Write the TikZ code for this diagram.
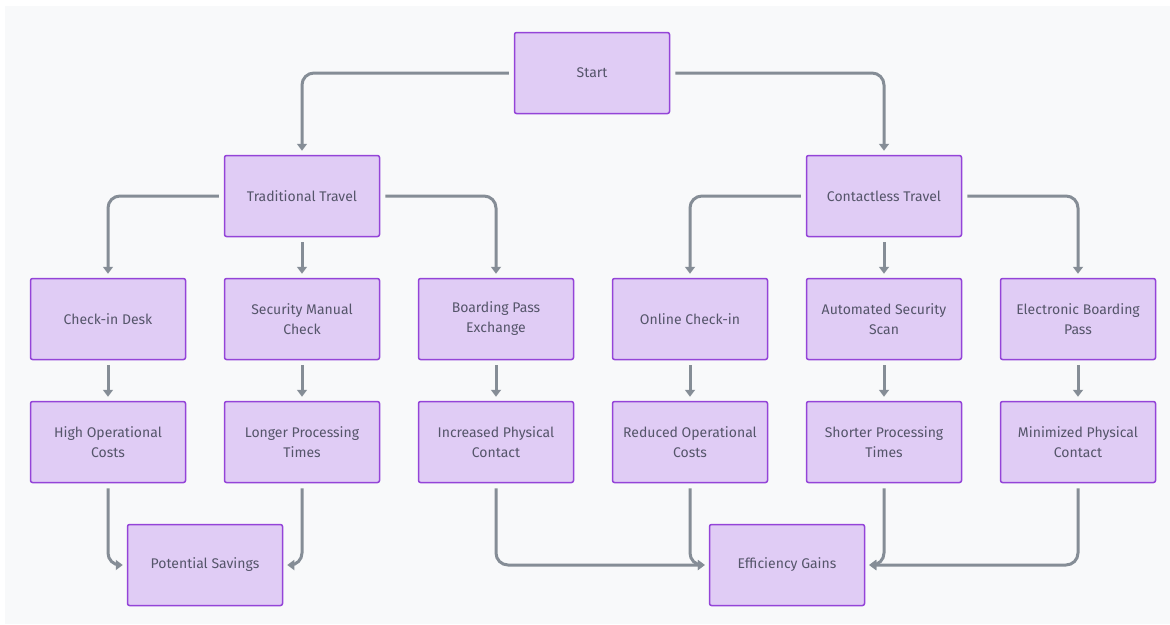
\documentclass[tikz,border=0pt]{standalone}
\usepackage{fontspec}
\setmainfont{Fira Sans}
\usetikzlibrary{arrows.meta}
\definecolor{bg}{HTML}{F8F9FA}
\definecolor{nfill}{HTML}{E0CCF5}
\definecolor{nborder}{HTML}{9444D8}
\definecolor{edgec}{HTML}{858D96}
\definecolor{txt}{HTML}{55556A}
\begin{document}
\begin{tikzpicture}[x=1pt,y=-1pt,
  box/.style={draw=nborder, fill=nfill, line width=1.5pt, rounded corners=2pt,
    minimum width=155pt, minimum height=81pt, align=center, text=txt,
    font=\fontsize{14}{20}\selectfont, inner sep=0pt},
  conn/.style={draw=edgec, line width=3pt, rounded corners=12pt,
    -{Triangle[length=7pt,width=10pt]}, shorten <=5pt, shorten >=4pt}]
\useasboundingbox (0,0) rectangle (1170,624);
\fill[white] (0,0) rectangle (1170,624);
\fill[bg] (5,6) rectangle (1170,624);
% nodes
\node[box] (start) at (592,73) {Start};
\node[box] (trad) at (302,196) {Traditional Travel};
\node[box] (cont) at (884,196) {Contactless Travel};
\node[box] (cid) at (108,319) {Check-in Desk};
\node[box] (smc) at (302,319) {Security Manual\\Check};
\node[box] (bpe) at (496,319) {Boarding Pass\\Exchange};
\node[box] (oci) at (690,319) {Online Check-in};
\node[box] (ass) at (884,319) {Automated Security\\Scan};
\node[box] (ebp) at (1078,319) {Electronic Boarding\\Pass};
\node[box] (hoc) at (108,442) {High Operational\\Costs};
\node[box] (lpt) at (302,442) {Longer Processing\\Times};
\node[box] (ipc) at (496,442) {Increased Physical\\Contact};
\node[box] (roc) at (690,442) {Reduced Operational\\Costs};
\node[box] (spt) at (884,442) {Shorter Processing\\Times};
\node[box] (mpc) at (1078,442) {Minimized Physical\\Contact};
\node[box] (ps) at (205,565) {Potential Savings};
\node[box] (eg) at (787,565) {Efficiency Gains};
% connectors
\draw[conn] (start.west) -| (trad.north);
\draw[conn] (start.east) -| (cont.north);
\draw[conn] (trad.west) -| (cid.north);
\draw[conn] (trad.south) -- (smc.north);
\draw[conn] (trad.east) -| (bpe.north);
\draw[conn] (cont.west) -| (oci.north);
\draw[conn] (cont.south) -- (ass.north);
\draw[conn] (cont.east) -| (ebp.north);
\draw[conn] (cid.south) -- (hoc.north);
\draw[conn] (smc.south) -- (lpt.north);
\draw[conn] (bpe.south) -- (ipc.north);
\draw[conn] (oci.south) -- (roc.north);
\draw[conn] (ass.south) -- (spt.north);
\draw[conn] (ebp.south) -- (mpc.north);
\draw[conn] (hoc.south) |- (ps.west);
\draw[conn] (lpt.south) |- (ps.east);
\draw[conn] (ipc.south) |- (eg.west);
\draw[conn] (roc.south) |- (eg.west);
\draw[conn] (spt.south) |- (eg.east);
\draw[conn] (mpc.south) |- (eg.east);
\end{tikzpicture}
\end{document}
